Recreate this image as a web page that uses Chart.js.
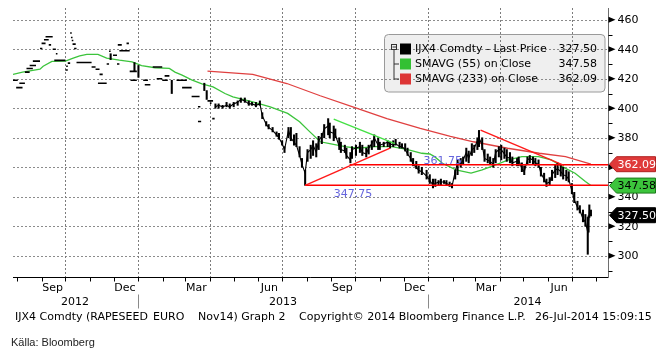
<!DOCTYPE html>
<html>
<head>
<meta charset="utf-8">
<script src="https://cdn.jsdelivr.net/npm/chart.js@4.4.1/dist/chart.umd.min.js"></script>
<style>
html, body { margin: 0; padding: 0; background: #fff; }
#wrap { width: 668px; height: 354px; }
</style>
</head>
<body>
<div id="wrap"><canvas id="chart" width="668" height="354"></canvas></div>
<script>
// flat stretches of the thinly traded 2012 / early 2013 period
const flatStart = ['2012-07-27','2012-07-31','2012-08-04','2012-08-11','2012-08-13','2012-08-17','2012-08-21','2012-08-30','2012-09-01','2012-09-04',
  '2012-09-06','2012-09-10','2012-09-15','2012-09-19','2012-09-17','2012-10-01','2012-10-02','2012-10-04','2012-10-07','2012-10-08',
  '2012-10-09','2012-10-10','2012-10-12','2012-10-15','2012-11-03','2012-11-08','2012-11-13','2012-11-11','2012-11-22','2012-11-25',
  '2012-11-30','2012-12-05','2012-12-06','2012-12-08','2012-12-17','2012-12-21','2012-12-22','2013-01-07','2013-01-09','2013-01-19',
  '2013-01-24','2013-01-31','2013-02-03','2013-02-18','2013-02-25','2013-03-09','2013-03-17','2013-03-17','2013-03-29','2013-04-01',
  '2013-04-04'];
const flatEnd = ['2012-08-02','2012-08-08','2012-08-11','2012-08-17','2012-08-21','2012-08-25','2012-08-30','2012-09-02','2012-09-06','2012-09-10',
  '2012-09-15','2012-09-13','2012-09-19','2012-09-21','2012-10-01','2012-10-04','2012-10-04','2012-10-07','2012-10-09','2012-10-10',
  '2012-10-11','2012-10-14','2012-10-15','2012-11-03','2012-11-08','2012-11-13','2012-11-17','2012-11-22','2012-11-25','2012-11-27',
  '2012-12-05','2012-12-08','2012-12-11','2012-12-21','2012-12-20','2012-12-30','2012-12-30','2013-01-13','2013-01-16','2013-01-31',
  '2013-01-31','2013-02-07','2013-02-09','2013-03-03','2013-03-09','2013-03-19','2013-03-20','2013-03-21','2013-04-05','2013-04-03',
  '2013-04-07'];
const flatPrice = [419, 414, 417, 424.5, 427, 429, 432, 440.5, 444, 446.5,
  448.5, 443, 440, 437, 432.5, 426, 428.5, 430.6, 451, 448,
  446, 443.5, 440.5, 431, 428, 426.5, 423, 417, 430, 438.7,
  436, 430, 443, 439, 444, 425, 419, 419, 416, 428,
  420, 419, 422, 419, 414, 408, 401, 391, 405, 403.5,
  393];

// isolated high-low bars in the same period
const spikeDates = ['2012-11-27','2012-12-27','2013-01-01','2013-02-12','2013-03-25','2013-03-28'];
const spikeLow = [433, 425, 421, 410, 412, 406];
const spikeHigh = [437, 431, 429, 419, 417, 412];

// high-low-close bars, Apr 2013 - Jul 2014
const barDates = [
  '2013-04-08','2013-04-12','2013-04-17','2013-04-22','2013-04-26',
  '2013-05-01','2013-05-06','2013-05-10','2013-05-15','2013-05-20','2013-05-24','2013-05-29',
  '2013-06-03','2013-06-06','2013-06-11','2013-06-14','2013-06-19','2013-06-24','2013-06-27',
  '2013-07-01','2013-07-04','2013-07-09','2013-07-12','2013-07-16','2013-07-19','2013-07-23','2013-07-26','2013-07-30',
  '2013-08-02','2013-08-06','2013-08-09','2013-08-13','2013-08-16','2013-08-20','2013-08-23','2013-08-28','2013-08-30',
  '2013-09-04','2013-09-06','2013-09-11','2013-09-13','2013-09-18','2013-09-20','2013-09-25','2013-09-27',
  '2013-10-02','2013-10-07','2013-10-10','2013-10-15','2013-10-18','2013-10-22','2013-10-25','2013-10-30',
  '2013-11-01','2013-11-06','2013-11-11','2013-11-14','2013-11-18','2013-11-21','2013-11-26','2013-11-29',
  '2013-12-03','2013-12-06','2013-12-10','2013-12-13','2013-12-17','2013-12-20','2013-12-24','2013-12-30',
  '2014-01-03','2014-01-07','2014-01-10','2014-01-14','2014-01-17','2014-01-21','2014-01-24','2014-01-28','2014-01-31',
  '2014-02-04','2014-02-07','2014-02-11','2014-02-14','2014-02-18','2014-02-21','2014-02-25','2014-02-28',
  '2014-03-04','2014-03-06','2014-03-10','2014-03-13','2014-03-17','2014-03-20','2014-03-24','2014-03-27','2014-03-31',
  '2014-04-03','2014-04-07','2014-04-10','2014-04-14','2014-04-17','2014-04-23','2014-04-25','2014-04-29',
  '2014-05-02','2014-05-06','2014-05-09','2014-05-13','2014-05-16','2014-05-20','2014-05-23','2014-05-27','2014-05-30',
  '2014-06-03','2014-06-06','2014-06-10','2014-06-13','2014-06-17','2014-06-20','2014-06-24','2014-06-27',
  '2014-07-01','2014-07-04','2014-07-08','2014-07-11','2014-07-15','2014-07-18','2014-07-21','2014-07-22','2014-07-23','2014-07-25'];
const barLow = [
  400, 400, 400, 401, 400,
  401, 402, 404, 404, 402, 402, 401,
  402, 393, 388, 386, 384, 381, 379,
  375, 370, 380, 378, 375, 374, 367, 360, 347.75,
  364, 366, 368, 367, 372, 376, 380, 382, 380,
  378, 380, 372, 370, 370, 366, 363, 366,
  368, 370, 368, 367, 369, 372, 374, 372,
  372, 374, 374, 373, 374, 375, 373, 373,
  371, 368, 364, 361, 359, 356, 355, 352,
  349, 346, 347, 348, 348, 349, 348, 347, 346,
  352, 355, 360, 362, 364, 363, 368, 370,
  372, 374, 372, 364, 363, 362, 360, 363, 367,
  365, 366, 364, 363, 361, 361, 361, 357,
  355, 362, 363, 362, 361, 360, 354, 350, 347,
  348, 351, 353, 355, 354, 352, 351, 350,
  342, 336, 331, 329, 323, 320, 301, 316, 326, 327];
const barHigh = [
  403, 403, 402, 404, 403,
  404, 405, 407, 407, 405, 404, 404,
  405, 397, 391, 389, 387, 384, 383,
  378, 374, 387, 387, 382, 383, 374, 366, 358,
  372, 375, 378, 376, 381, 383, 389, 393, 390,
  388, 386, 380, 377, 375, 373, 370, 374,
  375, 377, 375, 373, 375, 378, 382, 380,
  377, 377, 378, 377, 378, 379, 377, 376,
  376, 373, 370, 366, 364, 361, 360, 358,
  355, 352, 352, 351, 352, 351, 351, 350, 349,
  358, 365, 366, 367, 373, 371, 376, 375,
  380, 385, 380, 372, 369, 367, 366, 372, 374,
  375, 373, 372, 370, 367, 366, 367, 363,
  361, 367, 368, 367, 366, 365, 360, 356, 352,
  353, 358, 362, 363, 362, 360, 358, 357,
  349, 343, 337, 334, 331, 328, 326, 327, 334.5, 331];
const barClose = [
  401, 402, 401, 402, 401,
  403, 404, 406, 405, 403, 403, 402,
  403, 395, 389, 387, 385, 382, 380,
  376, 372, 385, 380, 377, 375, 368, 362, 356,
  370, 372, 375, 370, 378, 381, 386, 388, 384,
  383, 382, 374, 372, 371, 368, 365, 372,
  373, 374, 370, 369, 373, 376, 380, 375,
  375, 376, 377, 376, 375, 376, 374, 374,
  372, 369, 366, 362, 360, 358, 357, 354,
  351, 348, 349, 350, 350, 350, 349, 348, 347,
  357, 363, 362, 365, 370, 366, 372, 373,
  378, 380, 375, 366, 365, 364, 362, 370, 372,
  372, 369, 367, 366, 363, 364, 365, 359,
  357, 365, 366, 365, 363, 362, 356, 352, 349,
  350, 355, 358, 359, 357, 355, 354, 352,
  344, 338, 333, 331, 325, 323, 316, 324, 330, 327.5];

const sma55Dates = ['2012-07-27','2012-08-08','2012-08-30','2012-09-03','2012-09-14','2012-10-01','2012-10-10','2012-10-19','2012-10-28','2012-11-11',
  '2012-11-22','2012-12-08','2012-12-24','2013-01-05','2013-01-22','2013-02-09','2013-02-16','2013-02-25','2013-03-09','2013-03-22',
  '2013-04-05','2013-04-20','2013-04-30','2013-05-25','2013-06-16','2013-07-08','2013-07-23','2013-08-05','2013-08-18','2013-08-30',
  '2013-09-18','2013-10-04','2013-10-26','2013-11-16','2013-12-05','2013-12-24','2014-01-03','2014-01-09','2014-01-19','2014-02-05',
  '2014-02-24','2014-03-10','2014-03-27','2014-04-12','2014-04-29','2014-05-20','2014-06-05','2014-06-23','2014-07-05','2014-07-18',
  '2014-07-25'];
const sma55Values = [423, 424.5, 426.5, 428.5, 431.8, 432, 433.8, 435.5, 436.6, 436.6,
  434, 432.6, 431.5, 429, 427.5, 427, 424.5, 422.5, 419.3, 416.5,
  414.5, 410, 407.8, 404.4, 401, 396.5, 390.9, 384, 377.3, 376,
  374, 372.9, 374, 374, 372.2, 369.5, 369, 367.2, 362.7, 358.2,
  356, 358.2, 361.6, 365, 367.2, 367.2, 365, 359.3, 356, 350.3,
  347.58];

const sma233Dates = ['2013-03-29','2013-04-20','2013-05-25','2013-07-07','2013-08-18','2013-09-28','2013-11-10','2013-12-22','2014-01-29','2014-02-27',
  '2014-04-11','2014-05-21','2014-06-23','2014-07-25'];
const sma233Values = [425.2, 424.3, 423, 416.8, 408.5, 401, 393, 386.4, 381, 377.3,
  372.9, 369.5, 367.2, 362.09];

// drawn trend lines and levels
const riseDates = ['2013-07-30', '2013-11-14'];
const riseValues = [347.75, 373];
const slideDates = ['2013-09-04', '2013-11-20'];
const slideValues = [392.7, 376];
const fallDates = ['2014-03-08', '2014-06-21'];
const fallValues = [385.2, 361.3];
const levelValues = [361.75, 347.75];
const levelStart = ['2013-09-24', '2013-07-30'];
const levelLabelDates = ['2013-12-26', '2013-09-04'];

const lastPrice = 327.50, lastSma55 = 347.58, lastSma233 = 362.09;

const yTicks = [300, 320, 340, 360, 380, 400, 420, 440, 460];
const monthLabels = ['Sep', 'Dec', 'Mar', 'Jun', 'Sep', 'Dec', 'Mar', 'Jun'];
const monthLabelDates = ['2012-09-15','2012-12-15','2013-03-15','2013-06-15','2013-09-15','2013-12-15','2014-03-15','2014-06-15'];
const yearLabels = ['2012', '2013', '2014'];
const yearLabelDates = ['2012-10-13', '2013-07-02', '2014-05-06'];
const yearBreaks = ['2013-01-01', '2014-01-01'];

const DAY0 = Date.UTC(2013, 0, 1);
function dayOf(s) {
    const p = s.split('-').map(Number);
    return (Date.UTC(p[0], p[1] - 1, p[2]) - DAY0) / 86400000;
}
const xMin = -158, xMax = 591.5;
const pts = (dates, values) => dates.map((d, i) => ({ x: dayOf(d), y: values[i] }));

const flatData = [];
flatStart.forEach((s, i) => {
    flatData.push({ x: dayOf(s), y: flatPrice[i] }, { x: dayOf(flatEnd[i]), y: flatPrice[i] }, { x: dayOf(flatEnd[i]), y: null });
});

const monthStarts = [];
const quarterStarts = [];
for (let y = 2012; y <= 2014; y++) {
    for (let m = 1; m <= 12; m++) {
        const d = dayOf(`${y}-${m}-1`);
        if (d < xMin || d > xMax) continue;
        monthStarts.push(d);
        if ((m - 1) % 3 === 0) quarterStarts.push(d);
    }
}

const FONT = '11px "DejaVu Sans", sans-serif';

function roundRect(c, x, y, w, h, r) {
    c.beginPath();
    c.moveTo(x + r, y);
    c.lineTo(x + w - r, y);
    c.quadraticCurveTo(x + w, y, x + w, y + r);
    c.lineTo(x + w, y + h - r);
    c.quadraticCurveTo(x + w, y + h, x + w - r, y + h);
    c.lineTo(x + r, y + h);
    c.quadraticCurveTo(x, y + h, x, y + h - r);
    c.lineTo(x, y + r);
    c.quadraticCurveTo(x, y, x + r, y);
    c.closePath();
}

function seg(c, x1, y1, x2, y2) {
    c.beginPath();
    c.moveTo(x1, y1);
    c.lineTo(x2, y2);
    c.stroke();
}

function drawTag(c, x, y, text, fill, edge, ink) {
    c.beginPath();
    c.moveTo(x + 1, y);
    c.lineTo(x + 8, y - 7.5);
    c.lineTo(x + 47, y - 7.5);
    c.lineTo(x + 47, y + 7.5);
    c.lineTo(x + 8, y + 7.5);
    c.closePath();
    c.fillStyle = fill;
    c.fill();
    c.strokeStyle = edge;
    c.lineWidth = 1;
    c.stroke();
    c.fillStyle = ink;
    c.textAlign = 'left';
    c.textBaseline = 'middle';
    c.fillText(text, x + 9, y + 0.5);
}

const frame = {
    id: 'frame',
    beforeDraw(chart) {
        const c = chart.ctx;
        c.save();
        c.fillStyle = '#fff';
        c.fillRect(0, 0, chart.width, chart.height);
        roundRect(c, 384.5, 34.5, 220.5, 57.5, 4);
        c.fillStyle = '#efefef';
        c.fill();
        c.restore();
    },
    beforeDatasetsDraw(chart) {
        const c = chart.ctx, a = chart.chartArea, xs = chart.scales.x, ys = chart.scales.y;
        c.save();
        c.lineWidth = 1;
        c.setLineDash([2, 2]);
        c.strokeStyle = '#8c8c8c';
        yTicks.forEach(v => {
            const y = Math.round(ys.getPixelForValue(v)) + 0.5;
            seg(c, a.left, y, a.right, y);
        });
        c.strokeStyle = '#7c7c7c';
        quarterStarts.forEach(d => {
            const x = Math.round(xs.getPixelForValue(d)) + 0.5;
            seg(c, x, a.top, x, a.bottom);
        });
        c.setLineDash([]);
        c.restore();
    },
    afterDraw(chart) {
        const c = chart.ctx, a = chart.chartArea, xs = chart.scales.x, ys = chart.scales.y;
        c.save();
        c.lineWidth = 1;
        // axes
        c.strokeStyle = '#000';
        const by = Math.round(a.bottom) + 0.5;
        const rx = Math.round(a.right) + 0.5;
        seg(c, a.left, by, rx, by);
        c.strokeStyle = '#6e6e6e';
        seg(c, rx, a.top, rx, by);
        c.strokeStyle = '#000';
        monthStarts.forEach(d => {
            const x = Math.round(xs.getPixelForValue(d)) + 0.5;
            seg(c, x, by, x, by + 4);
        });
        c.strokeStyle = '#8a8a8a';
        yearBreaks.forEach(s => {
            const x = Math.round(xs.getPixelForValue(dayOf(s))) + 0.5;
            seg(c, x, by + 17, x, by + 31);
        });
        c.font = FONT;
        c.fillStyle = '#000';
        c.textAlign = 'center';
        c.textBaseline = 'middle';
        monthLabels.forEach((t, i) => c.fillText(t, xs.getPixelForValue(dayOf(monthLabelDates[i])), a.bottom + 11));
        yearLabels.forEach((t, i) => c.fillText(t, xs.getPixelForValue(dayOf(yearLabelDates[i])), a.bottom + 25));

        // right axis
        c.textAlign = 'left';
        c.strokeStyle = '#000';
        for (let v = 290; v < ys.max; v += 20) {
            const y = Math.round(ys.getPixelForValue(v)) + 0.5;
            seg(c, rx, y, rx + 4, y);
        }
        yTicks.forEach(v => {
            const y = ys.getPixelForValue(v);
            c.beginPath();
            c.moveTo(rx, y - 3);
            c.lineTo(rx + 7, y);
            c.lineTo(rx, y + 3);
            c.closePath();
            c.fillStyle = '#000';
            c.fill();
            c.fillText(String(v), rx + 9, y + 0.5);
        });
        drawTag(c, rx, ys.getPixelForValue(lastSma233), lastSma233.toFixed(2), '#df3a3a', '#b02020', '#fff');
        drawTag(c, rx, ys.getPixelForValue(lastSma55), lastSma55.toFixed(2), '#3cc43c', '#1c7a1c', '#000');
        drawTag(c, rx, ys.getPixelForValue(lastPrice), lastPrice.toFixed(2), '#000', '#000', '#fff');

        // level labels
        c.fillStyle = '#6666dd';
        c.font = FONT;
        c.textBaseline = 'bottom';
        c.fillText(levelValues[0].toFixed(2), xs.getPixelForValue(dayOf(levelLabelDates[0])), ys.getPixelForValue(levelValues[0]) + 2);
        c.textBaseline = 'top';
        c.fillText(levelValues[1].toFixed(2), xs.getPixelForValue(dayOf(levelLabelDates[1])), ys.getPixelForValue(levelValues[1]) + 3);

        // legend
        roundRect(c, 384.5, 34.5, 220.5, 57.5, 4);
        c.strokeStyle = '#9a9a9a';
        c.stroke();
        c.strokeStyle = '#333';
        c.strokeRect(391.5, 44.5, 5, 5);
        seg(c, 392.5, 47, 396, 47);
        seg(c, 394, 50, 394, 79);
        seg(c, 394, 64, 399, 64);
        seg(c, 394, 79, 399, 79);
        const rows = [
            ['IJX4 Comdty - Last Price', lastPrice, '#000'],
            ['SMAVG (55) on Close', lastSma55, '#33c033'],
            ['SMAVG (233) on Close', lastSma233, '#dd3535']
        ];
        rows.forEach((r, i) => {
            const y = 49 + i * 15;
            c.fillStyle = r[2];
            c.fillRect(400, y - 5.5, 11, 11);
            c.fillStyle = '#000';
            c.textAlign = 'left';
            c.textBaseline = 'middle';
            c.fillText(r[0], 415, y + 0.5);
            c.textAlign = 'right';
            c.fillText(r[1].toFixed(2), 597, y + 0.5);
        });

        // footer
        c.textAlign = 'left';
        c.textBaseline = 'middle';
        c.fillStyle = '#000';
        c.fillText('IJX4 Comdty (RAPESEED', 15, 317);
        c.fillText('EURO', 153, 317);
        c.fillText('Nov14) Graph 2', 198, 317);
        c.fillText('Copyright\u00a9 2014 Bloomberg Finance L.P.', 299, 317);
        c.fillText('26-Jul-2014 15:09:15', 535, 317);
        c.font = '11px "Liberation Sans", Arial, sans-serif';
        c.fillStyle = '#222';
        c.fillText('K\u00e4lla: Bloomberg', 11, 343);
        c.restore();
    }
};

const line = (data, color, width, order) => ({
    type: 'line', data, borderColor: color, borderWidth: width, pointRadius: 0,
    tension: 0, spanGaps: false, order
});

new Chart(document.getElementById('chart'), {
    type: 'line',
    data: {
        datasets: [
            line(pts(sma55Dates, sma55Values), '#3cc43c', 1.3, 5),
            line(pts(sma233Dates, sma233Values), '#e04040', 1.3, 5),
            line(flatData, '#000', 1.6, 2),
            {
                type: 'bar', order: 2, grouped: false, barThickness: 1.4, backgroundColor: '#000',
                data: spikeDates.map((d, i) => ({ x: dayOf(d), y: [spikeLow[i], spikeHigh[i]] }))
            },
            {
                type: 'bar', order: 2, grouped: false, barThickness: 1.4, backgroundColor: '#000',
                data: barDates.map((d, i) => ({ x: dayOf(d), y: [barLow[i], barHigh[i]] }))
            },
            line(pts(barDates, barClose), '#000', 1.1, 2),
            line(pts(riseDates, riseValues), '#ff1a1a', 1.5, 0),
            line(pts(slideDates, slideValues), '#44e044', 1.4, 0),
            line(pts(fallDates, fallValues), '#ff1a1a', 1.4, 0),
            line([{ x: dayOf(levelStart[0]), y: levelValues[0] }, { x: xMax, y: levelValues[0] }], '#ff0000', 1.5, 0),
            line([{ x: dayOf(levelStart[1]), y: levelValues[1] }, { x: xMax, y: levelValues[1] }], '#ff0000', 1.5, 0)
        ]
    },
    options: {
        responsive: false,
        animation: false,
        devicePixelRatio: 1,
        layout: { padding: { left: 13, right: 60, top: 8, bottom: 77 } },
        plugins: { legend: { display: false }, tooltip: { enabled: false } },
        scales: {
            x: { type: 'linear', min: xMin, max: xMax, display: false, offset: false },
            y: { type: 'linear', min: 285.6, max: 468, display: false }
        }
    },
    plugins: [frame]
});
</script>
</body>
</html>
